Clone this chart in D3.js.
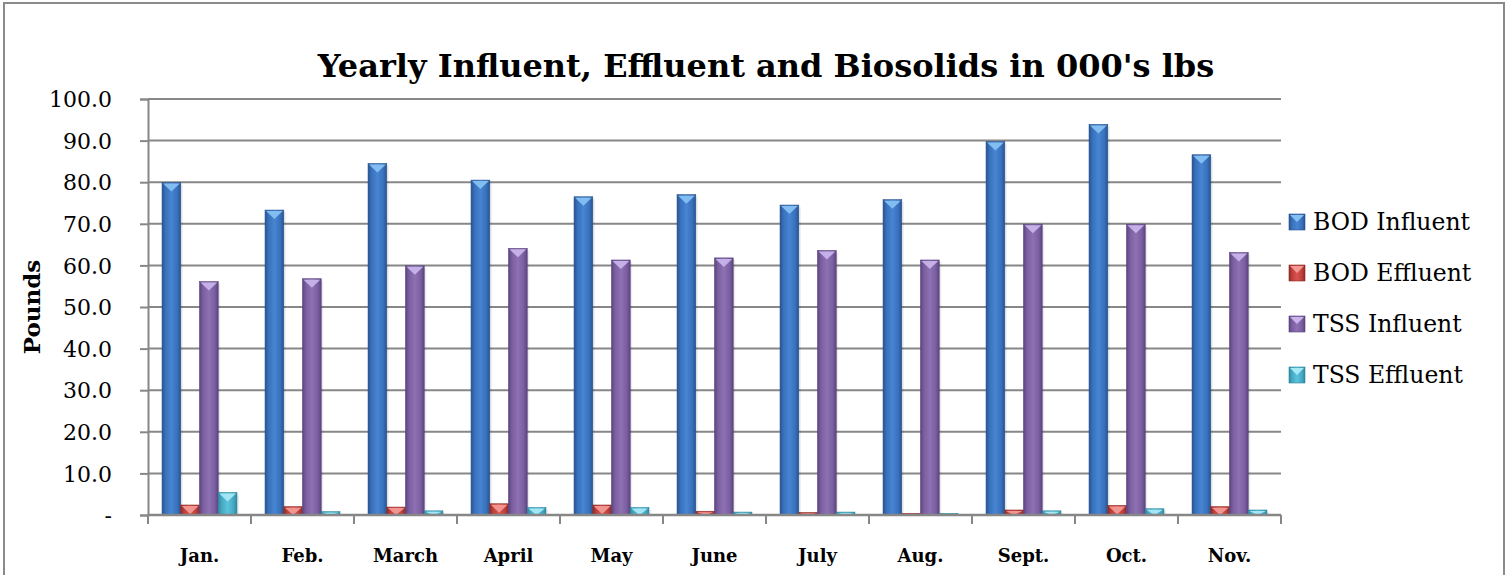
<!DOCTYPE html>
<html>
<head>
<meta charset="utf-8">
<script src="https://cdn.jsdelivr.net/npm/d3@7"></script>
<style>
	body { margin: 0; background: #fff; }
	text { font-family: 'DejaVu Serif', serif; fill: #000; }
</style>
</head>
<body>
<div id="chart"></div>
<script>
const width = 1508;
const height = 575;

// data (thousands of lbs)
const months = ['Jan.', 'Feb.', 'March', 'April', 'May', 'June', 'July', 'Aug.', 'Sept.', 'Oct.', 'Nov.'];
const seriesNames = ['BOD Influent', 'BOD Effluent', 'TSS Influent', 'TSS Effluent'];
const bodInfluent = [79.9, 73.3, 84.5, 80.5, 76.5, 77.0, 74.5, 75.8, 89.8, 93.9, 86.6];
const bodEffluent = [2.4, 2.0, 1.9, 2.7, 2.4, 0.9, 0.6, 0.4, 1.2, 2.3, 2.0];
const tssInfluent = [56.1, 56.8, 59.9, 64.1, 61.3, 61.8, 63.6, 61.3, 69.9, 69.9, 63.1];
const tssEffluent = [5.4, 0.8, 1.0, 1.8, 1.8, 0.7, 0.7, 0.4, 1.0, 1.5, 1.2];
const yTicks = [0, 10, 20, 30, 40, 50, 60, 70, 80, 90, 100];

const seriesValues = [bodInfluent, bodEffluent, tssInfluent, tssEffluent];

// colours for each series: dark edge, base, light centre, bevel cap
const palette = [
	{ dark: '#28538f', base: '#3870bb', light: '#4785d2', cap: '#86c0f2' },
	{ dark: '#8c2a27', base: '#bd3f3a', light: '#d8544f', cap: '#f39894' },
	{ dark: '#5a4480', base: '#7a5e9f', light: '#8d71b3', cap: '#c8b3ea' },
	{ dark: '#2e879f', base: '#45a8c3', light: '#5cc3dc', cap: '#a6e8f6' },
];

const svg = d3.select('#chart').append('svg').attr('width', width).attr('height', height);

// gradients
const defs = svg.append('defs');
palette.forEach((p, i) => {
	const g = defs.append('linearGradient').attr('id', 'grad' + i).attr('x1', 0).attr('x2', 1).attr('y1', 0).attr('y2', 0);
	g.append('stop').attr('offset', '0%').attr('stop-color', p.dark);
	g.append('stop').attr('offset', '18%').attr('stop-color', p.base);
	g.append('stop').attr('offset', '50%').attr('stop-color', p.light);
	g.append('stop').attr('offset', '82%').attr('stop-color', p.base);
	g.append('stop').attr('offset', '100%').attr('stop-color', p.dark);
});

// outer frame
svg.append('rect')
	.attr('x', 4).attr('y', 3)
	.attr('width', 1500).attr('height', 600)
	.attr('fill', 'none')
	.attr('stroke', '#8a8a8a')
	.attr('stroke-width', 2);

const plot = { left: 148, right: 1281, top: 99, bottom: 515 };

const x = d3.scaleBand().domain(months).range([plot.left, plot.right]).paddingInner(0).paddingOuter(0);
const groupWidth = (x.bandwidth() * 4) / 5.5;
const xSub = d3.scaleBand().domain(seriesNames).range([0, groupWidth]);
const groupOffset = (x.bandwidth() - groupWidth) / 2;

const y = d3.scaleLinear().domain([0, 100]).range([plot.bottom, plot.top]);

// gridlines
svg.append('g')
	.selectAll('line')
	.data(yTicks.slice(1))
	.join('line')
	.attr('x1', plot.left)
	.attr('x2', plot.right)
	.attr('y1', (d) => y(d))
	.attr('y2', (d) => y(d))
	.attr('stroke', '#878787')
	.attr('stroke-width', 2);

// y axis
const yAxis = svg.append('g')
	.attr('transform', `translate(${plot.left},0)`)
	.call(d3.axisLeft(y).tickValues(yTicks).tickSize(8).tickPadding(28).tickFormat((d) => (d === 0 ? '-' : d3.format('.1f')(d))));
yAxis.select('.domain').attr('stroke', '#878787').attr('stroke-width', 2);
yAxis.selectAll('.tick line').attr('stroke', '#878787').attr('stroke-width', 2);
yAxis.selectAll('.tick text').style('font-size', '22px').attr('dy', '0.35em');

// bars
const groups = svg.append('g')
	.selectAll('g')
	.data(months)
	.join('g')
	.attr('transform', (m) => `translate(${x(m) + groupOffset},0)`);

const bars = groups
	.selectAll('g')
	.data((m, i) => seriesNames.map((s, j) => ({ series: s, idx: j, value: seriesValues[j][i] })))
	.join('g');

// faint shadow
bars.append('rect')
	.attr('x', (d) => xSub(d.series) + 2)
	.attr('y', (d) => y(d.value) + 2)
	.attr('width', xSub.bandwidth())
	.attr('height', (d) => y(0) - y(d.value) - 2)
	.attr('fill', '#000')
	.attr('opacity', 0.08);

bars.append('rect')
	.attr('x', (d) => xSub(d.series))
	.attr('y', (d) => y(d.value))
	.attr('width', xSub.bandwidth())
	.attr('height', (d) => y(0) - y(d.value))
	.attr('fill', (d) => `url(#grad${d.idx})`)
	.attr('stroke', (d) => palette[d.idx].dark)
	.attr('stroke-width', 0.6);

// bevel cap on top of each bar
bars.append('path')
	.attr('d', (d) => {
		const x0 = xSub(d.series) + 1;
		const x1 = x0 + xSub.bandwidth() - 2;
		const top = y(d.value) + 1;
		const depth = Math.min(8, (y(0) - y(d.value)) - 1);
		return `M${x0},${top}L${x1},${top}L${(x0 + x1) / 2},${top + depth}Z`;
	})
	.attr('fill', (d) => palette[d.idx].cap)
	.attr('opacity', 0.95);

// x axis line and ticks
svg.append('line')
	.attr('x1', plot.left)
	.attr('x2', plot.right)
	.attr('y1', y(0))
	.attr('y2', y(0))
	.attr('stroke', '#878787')
	.attr('stroke-width', 2.5);

svg.append('g')
	.selectAll('line')
	.data(months.map((m) => x(m)).concat([plot.right]))
	.join('line')
	.attr('x1', (d) => d)
	.attr('x2', (d) => d)
	.attr('y1', y(0))
	.attr('y2', y(0) + 9)
	.attr('stroke', '#878787')
	.attr('stroke-width', 2);

svg.append('g')
	.selectAll('text')
	.data(months)
	.join('text')
	.attr('x', (m) => x(m) + x.bandwidth() / 2)
	.attr('y', 562)
	.attr('text-anchor', 'middle')
	.style('font-size', '18px')
	.style('font-weight', 'bold')
	.text((m) => m);

// title
svg.append('text')
	.attr('x', 766)
	.attr('y', 77)
	.attr('text-anchor', 'middle')
	.style('font-size', '32px')
	.style('font-weight', 'bold')
	.text("Yearly Influent, Effluent and Biosolids in 000's lbs");

// y axis title
svg.append('text')
	.attr('transform', 'translate(40,307) rotate(-90)')
	.attr('text-anchor', 'middle')
	.style('font-size', '23px')
	.style('font-weight', 'bold')
	.text('Pounds');

// legend
const legend = svg.append('g')
	.selectAll('g')
	.data(seriesNames)
	.join('g')
	.attr('transform', (d, i) => `translate(1289,${222 + i * 51})`);

legend.append('rect')
	.attr('x', 0)
	.attr('y', -8)
	.attr('width', 16)
	.attr('height', 16)
	.attr('fill', (d, i) => `url(#grad${i})`)
	.attr('stroke', (d, i) => palette[i].dark)
	.attr('stroke-width', 0.6);

legend.append('path')
	.attr('d', 'M1,-7L15,-7L8,0Z')
	.attr('fill', (d, i) => palette[i].cap);

legend.append('text')
	.attr('x', 24)
	.attr('y', 0)
	.attr('dy', '0.35em')
	.style('font-size', '23.5px')
	.text((d) => d);
</script>
</body>
</html>
